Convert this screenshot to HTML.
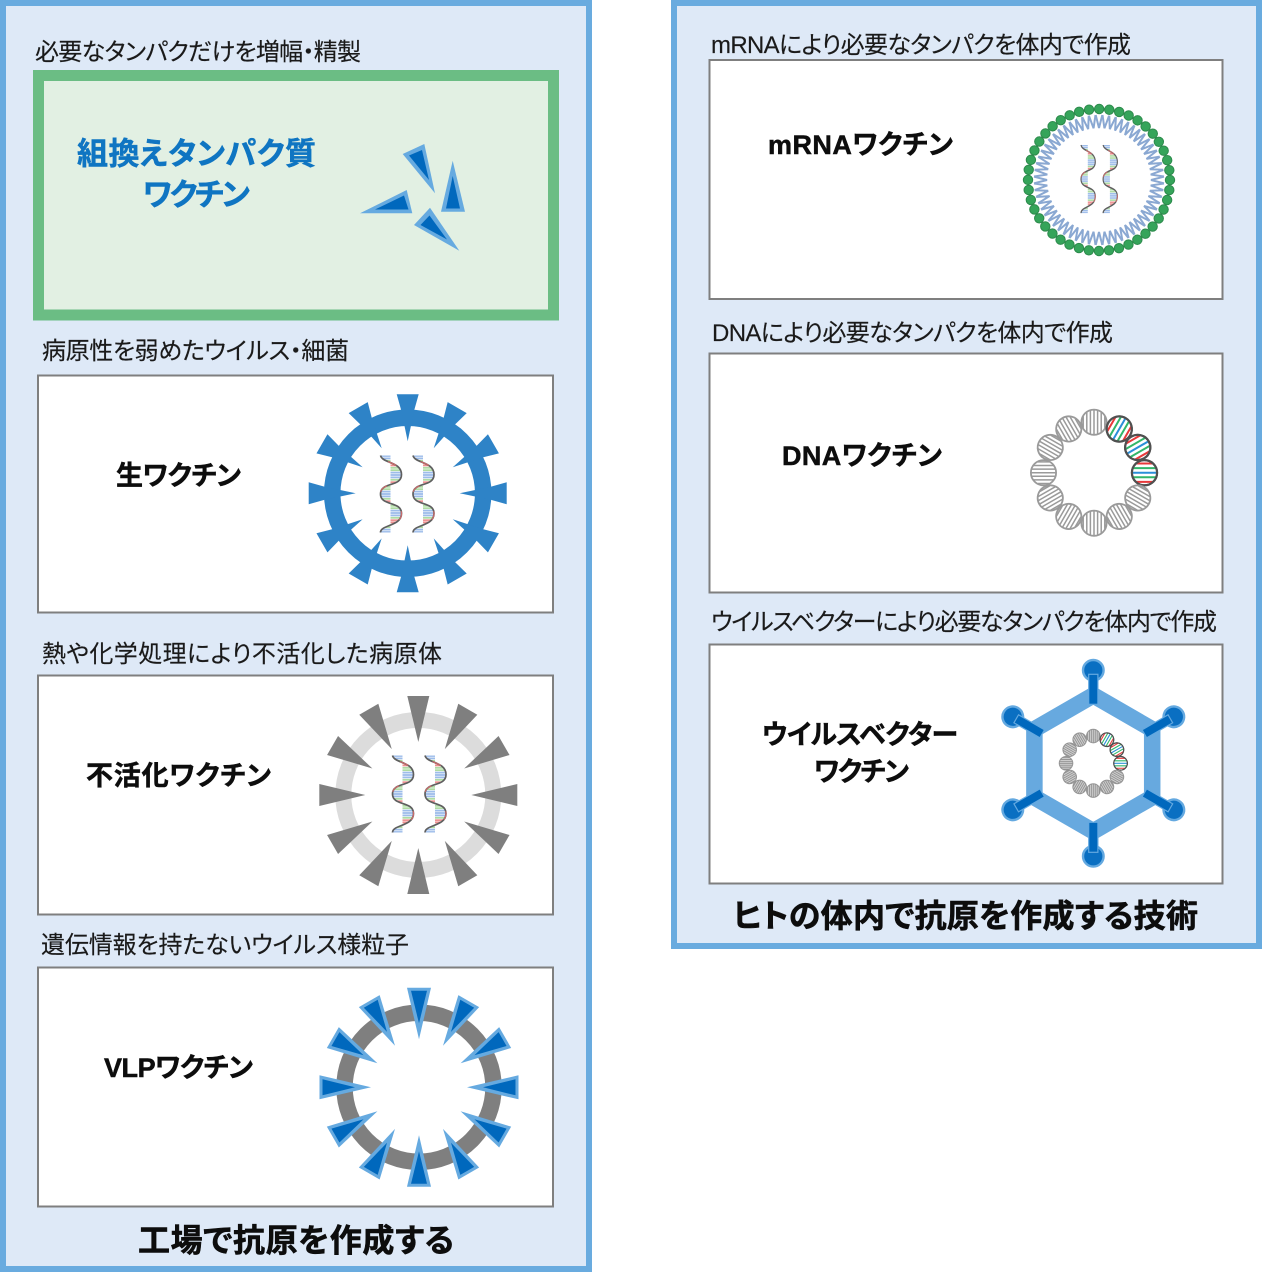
<!DOCTYPE html>
<html lang="ja"><head><meta charset="utf-8"><style>
html,body{margin:0;padding:0;background:#fff}
svg{display:block}
text{font-family:"Liberation Sans","Noto Sans CJK JP",sans-serif;fill:#1a1a1a;font-feature-settings:"palt"}
.l{font-size:24px;font-weight:400;stroke:#1a1a1a;stroke-width:.15px}
.b{font-size:27px;font-weight:700;fill:#0d0d0d;stroke:#0d0d0d;stroke-width:.5px}
.t{font-size:32px;font-weight:700;fill:#0d0d0d;stroke:#0d0d0d;stroke-width:.6px}
.c{font-size:31px;font-weight:700;fill:#0f75c2;stroke:#0f75c2;stroke-width:.5px}
</style></head><body>
<svg xmlns="http://www.w3.org/2000/svg" width="1262" height="1280" viewBox="0 0 1262 1280">
<defs>
<pattern id="rung" width="21" height="19" patternUnits="userSpaceOnUse" patternTransform="translate(0,9)">
<rect y="0" width="21" height="1.8" fill="#ee9090"/><rect y="2.4" width="21" height="1.8" fill="#aedba3"/><rect y="4.8" width="21" height="1.8" fill="#aedba3"/><rect y="7.2" width="21" height="1.8" fill="#9dbcea"/><rect y="9.6" width="21" height="1.8" fill="#9dbcea"/><rect y="12" width="21" height="1.8" fill="#9dbcea"/><rect y="14.4" width="21" height="1.8" fill="#aedba3"/><rect y="16.8" width="21" height="1.8" fill="#ee9090"/>
</pattern>
<g id="helix">
<path d="M0,0C2,8 21,6 21,19C21,32 0,26 0,38.5C0,51 21,45 21,58C21,71 0,69 0,77L10,77L10,0Z" fill="url(#rung)" fill-rule="evenodd"/>
<path d="M0,0C2,8 21,6 21,19C21,32 0,26 0,38.5C0,51 21,45 21,58C21,71 0,69 0,77" fill="none" stroke="#5f5f5f" stroke-width="1.7"/>
<path d="M0,0C2,8 21,6 21,19C21,32 0,26 0,38.5C0,51 21,45 21,58C21,71 0,69 0,77" fill="none" stroke="#c96a6a" stroke-width="1.2" stroke-dasharray="9 31" stroke-dashoffset="-10"/>
</g>
<g id="helix2"><use href="#helix"/><use href="#helix" x="32.5"/></g>

<polygon id="sp1" points="-11,-99 11,-99 6.5,-83 0,-52 -6.5,-83" fill="#2e83c7"/>
<polygon id="sp2" points="-11,-99 11,-99 0,-53" fill="#7f7f7f"/>
<g id="sp3"><polygon points="-12,-99.5 12,-99.5 0,-48" fill="#66aae0"/><polygon points="-8,-96.5 8,-96.5 0,-64" fill="#0068bd"/></g>

<path id="vv" d="M-3.3,-65L0,-52L3.3,-65" fill="none" stroke="#8aa8d2" stroke-width="2"/>
<g id="vq"><use href="#vv"/><use href="#vv" transform="rotate(6)"/><use href="#vv" transform="rotate(12)"/><use href="#vv" transform="rotate(18)"/><use href="#vv" transform="rotate(24)"/><use href="#vv" transform="rotate(30)"/><use href="#vv" transform="rotate(36)"/><use href="#vv" transform="rotate(42)"/><use href="#vv" transform="rotate(48)"/><use href="#vv" transform="rotate(54)"/><use href="#vv" transform="rotate(60)"/><use href="#vv" transform="rotate(66)"/><use href="#vv" transform="rotate(72)"/><use href="#vv" transform="rotate(78)"/><use href="#vv" transform="rotate(84)"/></g>

<g id="bg" transform="translate(0,-50.5)" stroke="#9a9a9a" stroke-width="1.5">
<circle r="12.6" fill="#fff" stroke-width="1.8"/>
<path d="M0,-12.5V12.5M3.6,-11.9V11.9M-3.6,-11.9V11.9M7.2,-10.1V10.1M-7.2,-10.1V10.1M10.8,-5.7V5.7M-10.8,-5.7V5.7" fill="none"/>
</g>
<g id="bc" transform="translate(0,-50.5)" stroke-width="2">
<circle r="12.6" fill="#fff" stroke="#555"/>
<path d="M-9.2,-8.4V8.4M9.2,-8.4V8.4" stroke="#e8393a" fill="none"/>
<path d="M-4.6,-11.6V11.6M4.6,-11.6V11.6" stroke="#32b66a" fill="none"/>
<path d="M0,-12V12" stroke="#2a8fd8" fill="none"/>
<circle r="12.6" fill="none" stroke="#505050" stroke-width="2.2"/>
</g>
<g id="dna">
<use href="#bg"/><use href="#bc" transform="rotate(30)"/><use href="#bc" transform="rotate(60)"/><use href="#bc" transform="rotate(90)"/>
<use href="#bg" transform="rotate(120)"/><use href="#bg" transform="rotate(150)"/><use href="#bg" transform="rotate(180)"/><use href="#bg" transform="rotate(210)"/><use href="#bg" transform="rotate(240)"/><use href="#bg" transform="rotate(270)"/><use href="#bg" transform="rotate(300)"/><use href="#bg" transform="rotate(330)"/>
</g>

<g id="arm">
<circle cy="-93" r="10.3" fill="#0a6fc2" stroke="#64a9e0" stroke-width="2.4"/>
<rect x="-4.6" y="-89" width="9.2" height="30" fill="#0068bd" stroke="#64a9e0" stroke-width="1.2"/>
</g>
</defs>

<rect width="1262" height="1280" fill="#fff"/>

<!-- panels -->
<rect x="3" y="3" width="586" height="1266" fill="#dee9f7" stroke="#69abdf" stroke-width="6"/>
<rect x="674" y="3" width="585" height="943" fill="#dee9f7" stroke="#69abdf" stroke-width="6"/>

<!-- left boxes -->
<rect x="38.5" y="75.5" width="515" height="239.5" fill="#e2f0e3" stroke="#6bbd84" stroke-width="11"/>
<rect x="38" y="375.5" width="515" height="237" fill="#fff" stroke="#7f7f7f" stroke-width="2"/>
<rect x="38" y="675.5" width="515" height="239" fill="#fff" stroke="#7f7f7f" stroke-width="2"/>
<rect x="38" y="967.5" width="515" height="239" fill="#fff" stroke="#7f7f7f" stroke-width="2"/>
<!-- right boxes -->
<rect x="709.5" y="60" width="513" height="239" fill="#fff" stroke="#7f7f7f" stroke-width="2"/>
<rect x="709.5" y="353.5" width="513" height="239" fill="#fff" stroke="#7f7f7f" stroke-width="2"/>
<rect x="709.5" y="644.5" width="513" height="239" fill="#fff" stroke="#7f7f7f" stroke-width="2"/>

<!-- recombinant protein triangles -->
<g fill="#66aae0">
<polygon points="402.7,154 424.3,144 435,193.3"/>
<polygon points="452.7,160.7 465,211.7 441,211.7"/>
<polygon points="360,213.3 406.7,190 412.3,213.3"/>
<polygon points="459.3,250.7 414,225 430,207.7"/>
</g>
<g fill="#0068bd">
<polygon points="409,155.5 422,150 429,180"/>
<polygon points="452.7,176 460,208.5 446,208.5"/>
<polygon points="375,209.5 404,195.5 408.5,209.5"/>
<polygon points="447,239.5 420.5,225 429.5,215.5"/>
</g>

<!-- live vaccine -->
<g transform="translate(407.7,493.3)">
<circle r="75.5" fill="none" stroke="#2e83c7" stroke-width="16.5"/>
<use href="#sp1"/><use href="#sp1" transform="rotate(30)"/><use href="#sp1" transform="rotate(60)"/><use href="#sp1" transform="rotate(90)"/><use href="#sp1" transform="rotate(120)"/><use href="#sp1" transform="rotate(150)"/><use href="#sp1" transform="rotate(180)"/><use href="#sp1" transform="rotate(210)"/><use href="#sp1" transform="rotate(240)"/><use href="#sp1" transform="rotate(270)"/><use href="#sp1" transform="rotate(300)"/><use href="#sp1" transform="rotate(330)"/>
</g>
<use href="#helix2" transform="translate(380.5,455.5)"/>

<!-- inactivated -->
<g transform="translate(418.3,795)">
<circle r="75" fill="none" stroke="#dcdcdc" stroke-width="16"/>
<use href="#sp2"/><use href="#sp2" transform="rotate(30)"/><use href="#sp2" transform="rotate(60)"/><use href="#sp2" transform="rotate(90)"/><use href="#sp2" transform="rotate(120)"/><use href="#sp2" transform="rotate(150)"/><use href="#sp2" transform="rotate(180)"/><use href="#sp2" transform="rotate(210)"/><use href="#sp2" transform="rotate(240)"/><use href="#sp2" transform="rotate(270)"/><use href="#sp2" transform="rotate(300)"/><use href="#sp2" transform="rotate(330)"/>
</g>
<use href="#helix2" transform="translate(392.5,755.5)"/>

<!-- VLP -->
<g transform="translate(419,1087.3)">
<circle r="74.5" fill="none" stroke="#7f7f7f" stroke-width="16.5"/>
<use href="#sp3"/><use href="#sp3" transform="rotate(30)"/><use href="#sp3" transform="rotate(60)"/><use href="#sp3" transform="rotate(90)"/><use href="#sp3" transform="rotate(120)"/><use href="#sp3" transform="rotate(150)"/><use href="#sp3" transform="rotate(180)"/><use href="#sp3" transform="rotate(210)"/><use href="#sp3" transform="rotate(240)"/><use href="#sp3" transform="rotate(270)"/><use href="#sp3" transform="rotate(300)"/><use href="#sp3" transform="rotate(330)"/>
</g>

<!-- mRNA -->
<g transform="translate(1099,180)">
<use href="#vq"/><use href="#vq" transform="rotate(90)"/><use href="#vq" transform="rotate(180)"/><use href="#vq" transform="rotate(270)"/>
<circle r="71" fill="none" stroke="#2d8a4c" stroke-width="10.4" stroke-linecap="round" stroke-dasharray="0 10.14"/>
<circle r="71" fill="none" stroke="#35a45a" stroke-width="8.4" stroke-linecap="round" stroke-dasharray="0 10.14"/>
</g>
<use href="#helix2" transform="translate(1081,145) scale(.68,.885)"/>

<!-- DNA -->
<use href="#dna" transform="translate(1094,472.7)"/>

<!-- viral vector -->
<g transform="translate(1093.3,763.3)">
<polygon points="0,-68 58.9,-34 58.9,34 0,68 -58.9,34 -58.9,-34" fill="none" stroke="#67a9df" stroke-width="16.5"/>
<use href="#arm"/><use href="#arm" transform="rotate(60)"/><use href="#arm" transform="rotate(120)"/><use href="#arm" transform="rotate(180)"/><use href="#arm" transform="rotate(240)"/><use href="#arm" transform="rotate(300)"/>
<use href="#dna" transform="scale(.54)"/>
<circle r="27.3" transform="rotate(30)" fill="none" stroke="#808080" stroke-opacity=".4" stroke-width="13.5" stroke-linecap="round" stroke-dasharray="0 14.29 0 14.29 0 14.29 0 14.29 0 14.29 0 14.29 0 14.29 0 14.29 0 57.2"/>
</g>

<!-- labels -->
<text class="l" x="35" y="60" textLength="326">必要なタンパクだけを増幅・精製</text>
<text class="c" x="77" y="164.5" textLength="239">組換えタンパク質</text>
<text class="c" x="143" y="205.5" textLength="107">ワクチン</text>
<text class="l" x="42" y="359" textLength="307">病原性を弱めたウイルス・細菌</text>
<text class="b" x="116" y="485" textLength="125">生ワクチン</text>
<text class="l" x="42" y="662" textLength="400">熱や化学処理により不活化した病原体</text>
<text class="b" x="86" y="785" textLength="185">不活化ワクチン</text>
<text class="l" x="41" y="953" textLength="368">遺伝情報を持たないウイルス様粒子</text>
<text class="b" x="104" y="1077" textLength="149">VLPワクチン</text>
<text class="t" x="138" y="1251.5" textLength="316">工場で抗原を作成する</text>

<text class="l" x="711" y="53" textLength="420">mRNAにより必要なタンパクを体内で作成</text>
<text class="b" x="768" y="154" textLength="185">mRNAワクチン</text>
<text class="l" x="712" y="341" textLength="401">DNAにより必要なタンパクを体内で作成</text>
<text class="b" x="782" y="465" textLength="160">DNAワクチン</text>
<text class="l" x="711" y="630" textLength="506">ウイルスベクターにより必要なタンパクを体内で作成</text>
<text class="b" x="762" y="744" textLength="196">ウイルスベクター</text>
<text class="b" x="814" y="781" textLength="95">ワクチン</text>
<text class="t" x="733" y="927" textLength="465">ヒトの体内で抗原を作成する技術</text>
</svg>
</body></html>
